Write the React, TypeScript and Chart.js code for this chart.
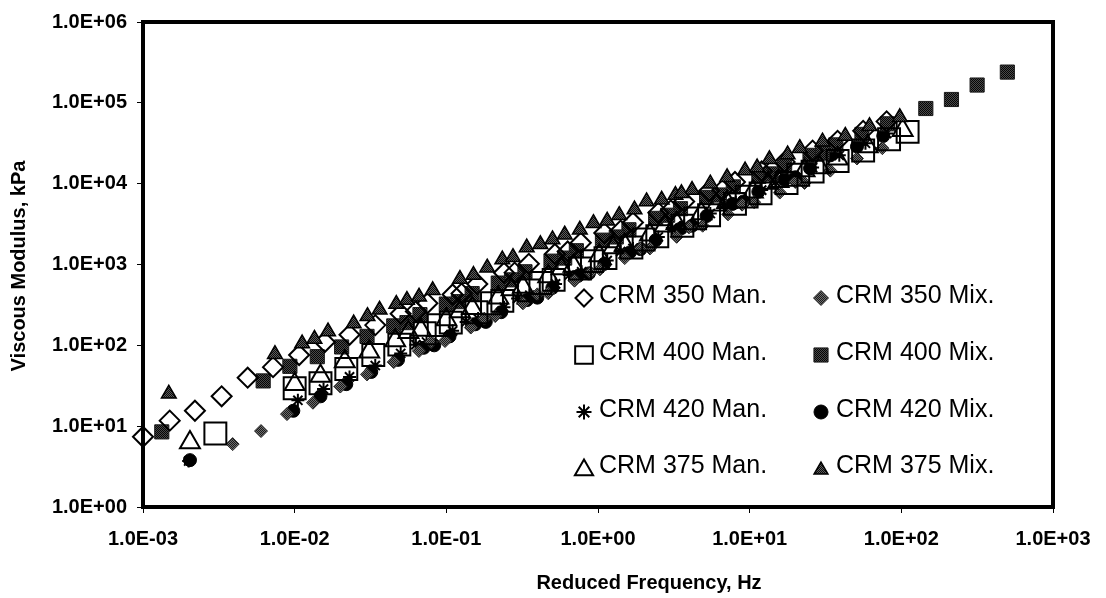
import React, { useEffect, useRef } from 'react';
import { Chart, registerables } from 'chart.js';
import { drawPoint } from 'chart.js/helpers';

Chart.register(...registerables);

// Axis ticks (log decades) and their printed labels
const xTicks = [1e-3, 1e-2, 1e-1, 1, 10, 100, 1000];
const xTickLabels = ['1.0E-03', '1.0E-02', '1.0E-01', '1.0E+00', '1.0E+01', '1.0E+02', '1.0E+03'];
const yTicks = [1, 10, 100, 1e3, 1e4, 1e5, 1e6];
const yTickLabels = ['1.0E+00', '1.0E+01', '1.0E+02', '1.0E+03', '1.0E+04', '1.0E+05', '1.0E+06'];

const seriesLabels = [
  'CRM 350 Man.', 'CRM 350 Mix.',
  'CRM 400 Man.', 'CRM 400 Mix.',
  'CRM 420 Man.', 'CRM 420 Mix.',
  'CRM 375 Man.', 'CRM 375 Mix.',
];

// Reduced frequency (Hz) and viscous modulus (kPa) per mixture;
// the trailing entries of each list are the overlapping temperature sweep.
const crm350ManFreq = [0.001, 0.0015, 0.0022, 0.0033, 0.0049, 0.0072, 0.0107, 0.0158, 0.023, 0.034, 0.05, 0.075, 0.11, 0.16, 0.24, 0.35, 0.52, 0.77, 1.1, 1.7, 2.5, 3.7, 5.4, 8, 12, 17, 26, 38, 56, 80,
  0.063, 0.126, 0.282, 0.631, 1.41, 3.02, 6.61, 14.1];
const crm350ManMod = [7.4, 11.7, 15.5, 23.4, 39.8, 53.7, 75.9, 110, 135, 178, 246, 331, 425, 575, 790, 1020, 1350, 1860, 2450, 3310, 4380, 6030, 8100, 10500, 14200, 18600, 25600, 33900, 45000, 58900,
  263, 437, 794, 1450, 2630, 4680, 8320, 14800];

const crm350MixFreq = [0.0039, 0.006, 0.0089, 0.0132, 0.02, 0.03, 0.045, 0.066, 0.098, 0.145, 0.21, 0.32, 0.47, 0.7, 1.03, 1.5, 2.2, 3.3, 4.9, 7.2, 10.7, 15.8, 23, 34, 51, 75,
  0.0794, 0.178, 0.398, 0.891, 1.91, 3.98, 8.91, 20];
const crm350MixMod = [6.0, 8.7, 14.1, 19.5, 30.9, 43.7, 62, 85, 113, 166, 230, 331, 440, 631, 871, 1200, 1580, 2200, 3020, 4170, 5900, 7760, 10200, 14500, 20500, 27500,
  110, 214, 427, 794, 1580, 2880, 5500, 10500];

const crm400ManFreq = [0.003, 0.01, 0.0148, 0.0219, 0.033, 0.049, 0.072, 0.107, 0.158, 0.234, 0.35, 0.51, 0.76, 1.12, 1.66, 2.46, 3.6, 5.4, 8, 11.8, 17.5, 26, 38, 56, 83, 110,
  0.0891, 0.2, 0.417, 0.912, 2.0, 4.37, 9.55, 20.9];
const crm400ManMod = [8.1, 29.5, 34, 51, 76, 102, 141, 191, 257, 355, 479, 646, 891, 1200, 1620, 2240, 3020, 4070, 5620, 7590, 10200, 14100, 19100, 25700, 35500, 43700,
  178, 331, 589, 1100, 2040, 3720, 6920, 12900];

const crm400MixFreq = [0.00133, 0.0062, 0.0093, 0.0141, 0.0204, 0.03, 0.045, 0.067, 0.1, 0.148, 0.22, 0.33, 0.49, 0.72, 1.07, 1.6, 2.4, 3.5, 5.2, 7.8, 11.5, 17, 25, 37, 55, 81, 145, 214, 316, 500,
  0.055, 0.12, 0.269, 0.603, 1.32, 2.88, 6.31, 13.8, 30.2];
const crm400MixMod = [8.5, 36.3, 55, 72.4, 95.5, 129, 174, 240, 324, 437, 589, 813, 1100, 1480, 2000, 2690, 3720, 4900, 6760, 9120, 12300, 16600, 22400, 30200, 40700, 55000, 85100, 110000, 166000, 240000,
  191, 347, 646, 1200, 2190, 4070, 7240, 13200, 24000];

const crm420ManFreq = [0.002, 0.0105, 0.0155, 0.023, 0.034, 0.05, 0.074, 0.11, 0.162, 0.24, 0.355, 0.525, 0.78, 1.15, 1.7, 2.5, 3.7, 5.5, 8.1, 12, 17.8, 26, 39, 58, 80,
  0.063, 0.135, 0.295, 0.646, 1.41, 3.09, 6.76, 14.8];
const crm420ManMod = [3.7, 20.9, 28.8, 40.7, 56.2, 79.4, 110, 151, 214, 295, 417, 575, 813, 1120, 1580, 2190, 3020, 4270, 5890, 8320, 11500, 15800, 22400, 31600, 41700,
  102, 195, 380, 741, 1450, 2820, 5500, 10500];

const crm420MixFreq = [0.00204, 0.0098, 0.0148, 0.0219, 0.032, 0.048, 0.071, 0.105, 0.155, 0.23, 0.34, 0.5, 0.74, 1.1, 1.62, 2.4, 3.55, 5.2, 7.7, 11.4, 16.9, 25, 34, 51, 76,
  0.0832, 0.182, 0.398, 0.871, 1.91, 4.17, 9.12, 20];
const crm420MixMod = [3.8, 15.5, 23.4, 33.1, 46.8, 66.1, 93.3, 129, 182, 257, 363, 513, 724, 1020, 1410, 2000, 2820, 3980, 5620, 7940, 11200, 15500, 22400, 28800, 38900,
  100, 195, 389, 776, 1550, 3020, 6030, 12000];

const crm375ManFreq = [0.00204, 0.01, 0.0148, 0.0214, 0.031, 0.046, 0.068, 0.1, 0.148, 0.22, 0.32, 0.47, 0.69, 1.02, 1.5, 2.2, 3.3, 4.8, 7.1, 10.5, 15.5, 23, 29, 38, 60, 102,
  0.0562, 0.123, 0.269, 0.575, 1.26, 2.75, 6.03, 13.2];
const crm375ManMod = [6.3, 33.1, 41.7, 63.1, 83.2, 115, 155, 209, 288, 389, 525, 708, 955, 1290, 1740, 2340, 3240, 4270, 5890, 7940, 10700, 14500, 15800, 20400, 28800, 45700,
  145, 263, 490, 891, 1620, 3020, 5500, 10200];

const crm375MixFreq = [0.00148, 0.00741, 0.0112, 0.0166, 0.0245, 0.0363, 0.0468, 0.055, 0.0813, 0.123, 0.186, 0.234, 0.275, 0.339, 0.417, 0.501, 0.603, 0.759, 0.933, 1.15, 1.38, 1.74, 2.09, 2.63, 3.24, 4.17, 5.5, 7.1, 9.33, 13.5, 21.4, 30.2, 42.7, 61.7, 97.7,
  0.0135, 0.0302, 0.0661, 0.151, 3.55, 11.2, 17.8];
const crm375MixMod = [25.1, 77.6, 105, 148, 186, 275, 324, 363, 479, 661, 912, 1150, 1230, 1620, 1780, 2040, 2340, 2690, 3240, 3470, 4070, 4790, 6030, 6310, 7240, 8320, 10000, 12000, 14500, 20000, 27500, 33100, 38900, 51300, 66100,
  120, 229, 398, 741, 7590, 15800, 22900];

const FONT = '"Liberation Sans", Arial, Helvetica, sans-serif';

// Fine dithered fill for the solid grey markers
function stipple(dark: string, light: string): CanvasPattern | string {
  const c = document.createElement('canvas');
  c.width = 2;
  c.height = 2;
  const g = c.getContext('2d');
  if (!g) return dark;
  g.fillStyle = light;
  g.fillRect(0, 0, 2, 2);
  g.fillStyle = dark;
  g.fillRect(0, 0, 1, 1);
  g.fillRect(1, 1, 1, 1);
  return g.createPattern(c, 'repeat') ?? dark;
}

const toPoints = (xs: number[], ys: number[]) => xs.map((x, i) => ({ x, y: ys[i] }));

type Marker = {
  style: string;
  radius: number;
  legendRadius: number;
  fill: any;
  border: string;
  width: number;
  order: number;
};

export default function App() {
  const ref = useRef<HTMLCanvasElement>(null);

  useEffect(() => {
    const canvas = ref.current;
    if (!canvas) return;

    const grayDiamond = stipple('#1a1a1a', '#6e6e6e');
    const graySquare = stipple('#050505', '#4a4a4a');
    const grayTriangle = stipple('#0a0a0a', '#5e5e5e');
    const hollow = 'rgba(255,255,255,0)';

    const markers: Marker[] = [
      { style: 'rectRot', radius: 10, legendRadius: 8.5, fill: hollow, border: '#000', width: 2, order: 1 },
      { style: 'rectRot', radius: 6.5, legendRadius: 7.5, fill: grayDiamond, border: '#2a2a2a', width: 1, order: 5 },
      { style: 'rect', radius: 15.5, legendRadius: 12.5, fill: hollow, border: '#000', width: 2, order: 3 },
      { style: 'rect', radius: 10, legendRadius: 10, fill: graySquare, border: '#1a1a1a', width: 1, order: 4 },
      { style: 'star', radius: 6.5, legendRadius: 7.5, fill: '#000', border: '#000', width: 2, order: 7 },
      { style: 'circle', radius: 6.5, legendRadius: 7, fill: '#000', border: '#000', width: 1, order: 6 },
      { style: 'triangle', radius: 11.5, legendRadius: 10.5, fill: hollow, border: '#000', width: 2, order: 2 },
      { style: 'triangle', radius: 8.5, legendRadius: 8, fill: grayTriangle, border: '#000', width: 1.5, order: 0 },
    ];

    const values = [
      toPoints(crm350ManFreq, crm350ManMod),
      toPoints(crm350MixFreq, crm350MixMod),
      toPoints(crm400ManFreq, crm400ManMod),
      toPoints(crm400MixFreq, crm400MixMod),
      toPoints(crm420ManFreq, crm420ManMod),
      toPoints(crm420MixFreq, crm420MixMod),
      toPoints(crm375ManFreq, crm375ManMod),
      toPoints(crm375MixFreq, crm375MixMod),
    ];

    const datasets = values.map((data, i) => {
      const m = markers[i];
      return {
        label: seriesLabels[i],
        data,
        order: m.order,
        showLine: false,
        clip: false as any,
        pointStyle: m.style as any,
        pointRadius: m.radius,
        pointHoverRadius: m.radius,
        pointBackgroundColor: m.fill,
        pointBorderColor: m.border,
        pointBorderWidth: m.width,
      };
    });

    // Heavy plot frame, two-column legend inside the plot, and axis titles
    const decorations = {
      id: 'decorations',
      afterDatasetsDraw(chart: any) {
        const { ctx, chartArea: a } = chart;
        ctx.save();
        ctx.lineWidth = 4;
        ctx.strokeStyle = '#000';
        ctx.strokeRect(a.left, a.top, a.right - a.left, a.bottom - a.top);
        ctx.restore();
      },
      afterDraw(chart: any) {
        const { ctx } = chart;
        ctx.save();
        const colMarkerX = [584, 821];
        const colTextX = [599, 836];
        const rowBase = [303, 360, 417, 473];
        ctx.font = `25px ${FONT}`;
        ctx.textAlign = 'left';
        ctx.textBaseline = 'alphabetic';
        seriesLabels.forEach((label, i) => {
          const col = i % 2;
          const row = Math.floor(i / 2);
          const m = markers[i];
          const cy = rowBase[row] - 5 + (m.style === 'triangle' ? 2 : 0);
          ctx.fillStyle = m.fill;
          ctx.strokeStyle = m.border;
          ctx.lineWidth = m.width;
          drawPoint(ctx, { pointStyle: m.style as any, rotation: 0, radius: m.legendRadius, borderWidth: m.width }, colMarkerX[col], cy);
          ctx.fillStyle = '#000';
          ctx.fillText(label, colTextX[col], rowBase[row]);
        });

        ctx.fillStyle = '#000';
        ctx.font = `bold 20px ${FONT}`;
        ctx.textAlign = 'center';
        ctx.textBaseline = 'middle';
        ctx.fillText('Reduced Frequency, Hz', 649, 583);
        ctx.translate(19, 266);
        ctx.rotate(-Math.PI / 2);
        ctx.fillText('Viscous Modulus, kPa', 0, 0);
        ctx.restore();
      },
    };

    const tickFont = { family: FONT, size: 20, weight: 'bold' as const };

    const chart = new Chart(canvas, {
      type: 'scatter',
      data: { datasets },
      options: {
        responsive: false,
        animation: false,
        devicePixelRatio: 1,
        layout: { padding: { top: 17, right: 53, bottom: 0, left: 0 } },
        plugins: { legend: { display: false }, tooltip: { enabled: false } },
        scales: {
          x: {
            type: 'logarithmic',
            min: 1e-3,
            max: 1e3,
            afterBuildTicks: (s: any) => {
              s.ticks = xTicks.map((v) => ({ value: v }));
            },
            afterFit: (s: any) => {
              s.height = 91;
            },
            ticks: {
              autoSkip: false,
              maxRotation: 0,
              minRotation: 0,
              padding: 14,
              color: '#000',
              font: tickFont,
              callback: (_v: any, i: number) => xTickLabels[i],
            },
            grid: { drawOnChartArea: false, drawTicks: true, tickLength: 6, color: '#000', tickColor: '#000', lineWidth: 1 },
            border: { display: false },
          },
          y: {
            type: 'logarithmic',
            min: 1,
            max: 1e6,
            afterBuildTicks: (s: any) => {
              s.ticks = yTicks.map((v) => ({ value: v }));
            },
            afterFit: (s: any) => {
              s.width = 143;
            },
            ticks: {
              autoSkip: false,
              padding: 10,
              color: '#000',
              font: tickFont,
              callback: (_v: any, i: number) => yTickLabels[i],
            },
            grid: { drawOnChartArea: false, drawTicks: true, tickLength: 6, color: '#000', tickColor: '#000', lineWidth: 1 },
            border: { display: false },
          },
        },
      },
      plugins: [decorations],
    } as any);

    return () => chart.destroy();
  }, []);

  return (
    <div style={{ position: 'fixed', left: 0, top: 0, width: 1106, height: 598, background: '#fff' }}>
      <canvas ref={ref} width={1106} height={598} style={{ display: 'block', width: 1106, height: 598 }} />
    </div>
  );
}
